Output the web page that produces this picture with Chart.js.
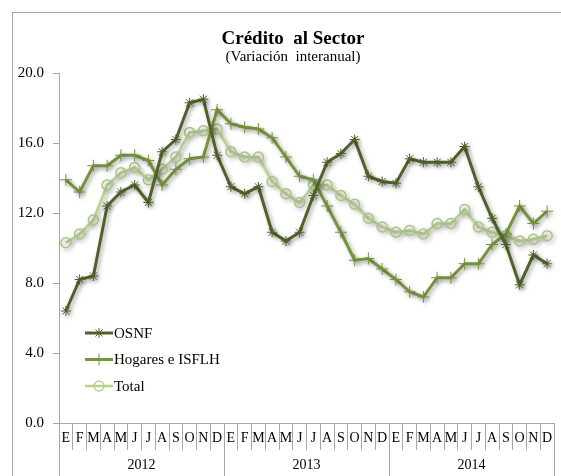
<!DOCTYPE html>
<html>
<head>
<meta charset="utf-8">
<script src="https://cdn.jsdelivr.net/npm/chart.js@4.4.1/dist/chart.umd.min.js"></script>
<style>
  body { margin: 0; overflow: hidden; background: #fff; }
  #frame { position: absolute; left: 12px; top: 12px; width: 620px; height: 520px; border: 1px solid #a6a6a6; }
  #chart { position: absolute; left: 0; top: 0; }
</style>
</head>
<body>
<div id="frame"></div>
<canvas id="chart" width="561" height="476"></canvas>
<script>
// months (E = enero ... D = diciembre), three years
var months = ["E", "F", "M", "A", "M", "J", "J", "A", "S", "O", "N", "D",
    "E", "F", "M", "A", "M", "J", "J", "A", "S", "O", "N", "D",
    "E", "F", "M", "A", "M", "J", "J", "A", "S", "O", "N", "D"];
var years = ["2012", "2013", "2014"];

var osnf = [6.4, 8.2, 8.4, 12.4, 13.2, 13.6, 12.6, 15.5, 16.2, 18.3, 18.5, 15.3,
    13.5, 13.1, 13.5, 10.9, 10.4, 10.9, 13.0, 14.9, 15.4, 16.2, 14.1, 13.8,
    13.7, 15.1, 14.9, 14.9, 14.9, 15.8, 13.5, 11.7, 10.2, 7.9, 9.6, 9.1];
var hogares = [13.9, 13.2, 14.7, 14.7, 15.3, 15.3, 15.0, 13.6, 14.5, 15.1, 15.2, 17.9,
    17.1, 16.9, 16.8, 16.3, 15.2, 14.1, 13.9, 12.4, 10.9, 9.3, 9.4, 8.8,
    8.2, 7.5, 7.2, 8.3, 8.3, 9.1, 9.1, 10.2, 10.8, 12.4, 11.4, 12.1];
var total = [10.3, 10.8, 11.6, 13.6, 14.3, 14.6, 13.9, 14.5, 15.2, 16.6, 16.7, 16.8,
    15.5, 15.2, 15.2, 13.8, 13.1, 12.6, 13.6, 13.6, 13.0, 12.5, 11.7, 11.2,
    10.9, 11.0, 10.8, 11.4, 11.4, 12.2, 11.2, 10.9, 10.7, 10.4, 10.5, 10.7];

var serif = "'Liberation Serif', 'DejaVu Serif', serif";
var axisGray = '#a6a6a6';

// soft drop shadow under the lines, like the spreadsheet original
var shadowPlugin = {
    id: 'shadow',
    beforeDatasetDraw: function (chart) {
        var ctx = chart.ctx;
        ctx.save();
        ctx.shadowColor = 'rgba(0,0,0,0.35)';
        ctx.shadowBlur = 4;
        ctx.shadowOffsetX = 2;
        ctx.shadowOffsetY = 2;
    },
    afterDatasetDraw: function (chart) {
        chart.ctx.restore();
    }
};

// titles
var titlePlugin = {
    id: 'titles',
    afterDraw: function (chart) {
        var ctx = chart.ctx;
        ctx.save();
        ctx.fillStyle = '#000';
        ctx.textAlign = 'center';
        ctx.textBaseline = 'alphabetic';
        ctx.font = 'bold 19px ' + serif;
        ctx.fillText('Crédito  al Sector', 293, 44);
        ctx.font = '15px ' + serif;
        ctx.fillText('(Variación  interanual)', 293, 61);
        ctx.restore();
    }
};

// legend inside the plot, lower left
var legendPlugin = {
    id: 'innerLegend',
    afterDraw: function (chart) {
        var ctx = chart.ctx;
        var x0 = chart.chartArea.left + 26;
        var y0 = 333;
        ctx.save();
        chart.data.datasets.forEach(function (ds, i) {
            var y = y0 + i * 26.5;
            ctx.strokeStyle = ds.borderColor;
            ctx.lineWidth = ds.borderWidth;
            ctx.beginPath();
            ctx.moveTo(x0, y);
            ctx.lineTo(x0 + 28, y);
            ctx.stroke();
            ctx.fillStyle = 'rgba(0,0,0,0)';
            ctx.lineWidth = ds.pointBorderWidth;
            Chart.helpers.drawPoint(ctx, {
                pointStyle: ds.pointStyle,
                radius: ds.pointRadius,
                rotation: 0,
                borderWidth: ds.pointBorderWidth
            }, x0 + 14, y);
            ctx.fillStyle = '#000';
            ctx.font = '15px ' + serif;
            ctx.textAlign = 'left';
            ctx.textBaseline = 'middle';
            ctx.fillText(ds.label, x0 + 29, y + 1);
        });
        ctx.restore();
    }
};

var ctx = document.getElementById('chart').getContext('2d');
var chart = new Chart(ctx, {
    type: 'line',
    data: {
        labels: months,
        datasets: [{
            label: 'OSNF',
            data: osnf,
            borderColor: '#4f6228',
            borderWidth: 3,
            pointStyle: 'star',
            pointRadius: 5,
            pointBorderWidth: 1,
            pointBorderColor: '#4f6228',
            pointBackgroundColor: 'rgba(0,0,0,0)',
            tension: 0
        }, {
            label: 'Hogares e ISFLH',
            data: hogares,
            borderColor: '#77933c',
            borderWidth: 3,
            pointStyle: 'cross',
            pointRadius: 6,
            pointBorderWidth: 1,
            pointBorderColor: '#77933c',
            pointBackgroundColor: 'rgba(0,0,0,0)',
            tension: 0
        }, {
            label: 'Total',
            data: total,
            borderColor: '#b9d28f',
            borderWidth: 2.5,
            pointStyle: 'circle',
            pointRadius: 5,
            pointBorderWidth: 1.5,
            pointBorderColor: '#a9c47f',
            pointBackgroundColor: 'rgba(0,0,0,0)',
            tension: 0
        }]
    },
    options: {
        responsive: false,
        animation: false,
        events: [],
        layout: { padding: { top: 73, left: 15, right: 5, bottom: 0 } },
        plugins: {
            legend: { display: false },
            title: { display: false },
            tooltip: { enabled: false }
        },
        scales: {
            x: {
                type: 'category',
                position: 'bottom',
                weight: 0,
                offset: true,
                afterFit: function (s) { s.height = 27; },
                grid: { offset: true, drawOnChartArea: false, tickLength: 27, color: axisGray },
                border: { color: axisGray },
                ticks: { color: '#000', font: { family: serif, size: 14 }, padding: -20, maxRotation: 0, autoSkip: false }
            },
            x2: {
                type: 'category',
                labels: years,
                position: 'bottom',
                weight: 1,
                offset: true,
                afterFit: function (s) { s.height = 26; },
                grid: { offset: true, drawOnChartArea: false, tickLength: 26, color: axisGray },
                border: { display: false },
                ticks: { color: '#000', font: { family: serif, size: 14 }, padding: -19, maxRotation: 0 }
            },
            y: {
                min: 0,
                max: 20,
                afterFit: function (s) { s.width = 44; },
                grid: { drawOnChartArea: false, tickLength: 6, color: axisGray },
                border: { color: axisGray },
                ticks: {
                    stepSize: 4,
                    padding: 9,
                    color: '#000',
                    font: { family: serif, size: 15 },
                    callback: function (v) { return v.toFixed(1); }
                }
            }
        }
    },
    plugins: [shadowPlugin, titlePlugin, legendPlugin]
});
</script>
</body>
</html>
